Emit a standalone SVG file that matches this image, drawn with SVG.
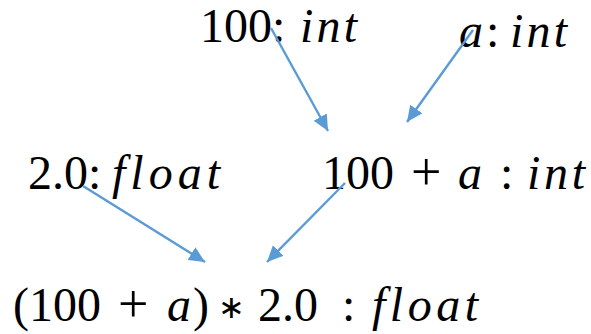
<svg xmlns="http://www.w3.org/2000/svg" width="591" height="334" viewBox="0 0 591 334">
<defs>
<style>
text{font-family:"Liberation Serif","Times New Roman",serif;font-size:48px;fill:#000}
.i{font-style:italic}
.p{font-size:54px}
.s{font-family:"DejaVu Sans",sans-serif;font-size:32px}
.c{stroke:#5B9BD5;stroke-width:2.4;fill:none;marker-end:url(#ah)}
</style>
<marker id="ah" markerUnits="userSpaceOnUse" markerWidth="18" markerHeight="16" refX="16" refY="7.5" orient="auto">
<path d="M0,0 L16,7.5 L0,15 Z" fill="#5B9BD5"/>
</marker>
</defs>
<rect width="591" height="334" fill="#fff"/>
<g id="n100">
<text x="200" y="42">100:</text>
<text class="i" x="300" y="42" textLength="57" lengthAdjust="spacing">int</text>
</g>
<g id="na">
<text class="i" x="459" y="47">a</text>
<text x="486" y="47">:</text>
<text class="i" x="510" y="47" textLength="57" lengthAdjust="spacing">int</text>
</g>
<g id="n20">
<text x="28" y="189">2.0:</text>
<text class="i" x="112" y="189" textLength="108" lengthAdjust="spacing">float</text>
</g>
<g id="nsum">
<text x="322" y="189">100</text>
<text class="p" x="411" y="190">+</text>
<text class="i" x="458" y="189">a</text>
<text x="500" y="189">:</text>
<text class="i" x="527" y="189" textLength="58" lengthAdjust="spacing">int</text>
</g>
<g id="nprod">
<text x="13" y="321">(100</text>
<text class="p" x="118" y="322">+</text>
<text class="i" x="167" y="321">a</text>
<text x="193" y="321">)</text>
<text class="s" x="218" y="318">∗</text>
<text x="258" y="321">2.0</text>
<text x="342" y="321">:</text>
<text class="i" x="372" y="321" textLength="106" lengthAdjust="spacing">float</text>
</g>
<g id="connectors">
<line class="c" x1="271" y1="28" x2="328" y2="131"/>
<line class="c" x1="473" y1="30" x2="407" y2="122"/>
<line class="c" x1="83" y1="186" x2="205" y2="262"/>
<line class="c" x1="345" y1="183" x2="267" y2="262"/>
</g>
</svg>
